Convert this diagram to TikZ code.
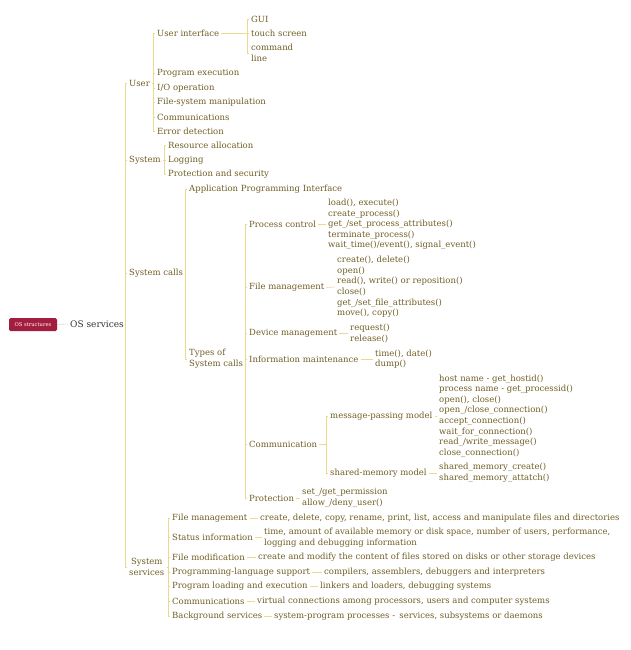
\documentclass[tikz,border=0pt]{standalone}
\usepackage{fontspec}
\setmainfont{DejaVu Serif}
\usetikzlibrary{positioning}
\definecolor{mtext}{RGB}{112,94,36}
\definecolor{mline}{RGB}{236,218,140}
\definecolor{mroot}{RGB}{163,30,62}
\tikzset{topic/.style = {anchor=west, inner xsep=2pt, inner ysep=0pt, align=left,
                         text=mtext, font=\fontsize{8.5}{10.6}\selectfont},
         link/.style = {draw=mline, line width=0.6pt}}

\begin{document}
\begin{tikzpicture}[x=1pt, y=-1pt]
    \fill [white] (0,0) rectangle (630,650);
    \useasboundingbox (0,0) rectangle (630,650);

    % root
    \node [fill=mroot, text=white, rounded corners=1.5pt, minimum width=48pt, minimum height=13pt,
           inner sep=0pt, font=\fontsize{5.2}{6}\selectfont] (root) at (33,324.5) {OS structures};
    \node [topic, text=black!80, font=\fontsize{9}{11}\selectfont] (os) at (68,324) {OS services};

    % first level
    \node [topic] (user) at (127,83) {User};
    \node [topic] (sys) at (127,160) {System};
    \node [topic] (calls) at (127,273) {System calls};
    \node [topic, align=center] (serv) at (127,567) {System\\services};

    % user
    \node [topic] (ui) at (155,33.5) {User interface};
    \node [topic] (pe) at (155,73.5) {Program execution};
    \node [topic] (io) at (155,88) {I/O operation};
    \node [topic] (fsm) at (155,102) {File-system manipulation};
    \node [topic] (com) at (155,117) {Communications};
    \node [topic] (err) at (155,131) {Error detection};
    \node [topic] (gui) at (249,19) {GUI};
    \node [topic] (touch) at (249,33.5) {touch screen};
    \node [topic] (cmd) at (249,53) {command\\line};

    % system
    \node [topic] (res) at (166,145.5) {Resource allocation};
    \node [topic] (log) at (166,160) {Logging};
    \node [topic] (prot) at (166,174.5) {Protection and security};

    % system calls
    \node [topic] (api) at (187,189) {Application Programming Interface};
    \node [topic] (types) at (187,359) {Types of\\System calls};
    \node [topic] (pc) at (247,224.5) {Process control};
    \node [topic] (fm) at (247,287.5) {File management};
    \node [topic] (dm) at (247,333.5) {Device management};
    \node [topic] (im) at (247,359) {Information maintenance};
    \node [topic] (comm) at (247,444) {Communication};
    \node [topic] (pr) at (247,498) {Protection};

    \node [topic] (pcl) at (326,224.5) {load(), execute()\\create\_process()\\get\_/set\_process\_attributes()\\terminate\_process()\\wait\_time()/event(), signal\_event()};
    \node [topic] (fml) at (335,287) {create(), delete()\\open()\\read(), write() or reposition()\\close()\\get\_/set\_file\_attributes()\\move(), copy()};
    \node [topic] (dml) at (348,333.5) {request()\\release()};
    \node [topic] (iml) at (373,359) {time(), date()\\dump()};
    \node [topic] (mp) at (328,416) {message-passing model};
    \node [topic] (sm) at (328,473) {shared-memory model};
    \node [topic] (mpl) at (437,416) {host name - get\_hostid()\\process name - get\_processid()\\open(), close()\\open\_/close\_connection()\\accept\_connection()\\wait\_for\_connection()\\read\_/write\_message()\\close\_connection()};
    \node [topic] (sml) at (437,473) {shared\_memory\_create()\\shared\_memory\_attatch()};
    \node [topic] (prl) at (300,498) {set\_/get\_permission\\allow\_/deny\_user()};

    % system services
    \node [topic] (sfm) at (170,518) {File management};
    \node [topic] (sst) at (170,537.5) {Status information};
    \node [topic] (smod) at (170,557) {File modification};
    \node [topic] (spl) at (170,572) {Programming-language support};
    \node [topic] (sld) at (170,586.5) {Program loading and execution};
    \node [topic] (scom) at (170,601) {Communications};
    \node [topic] (sbg) at (170,616) {Background services};
    \node [topic] (sfml) at (258,518) {create, delete, copy, rename, print, list, access and manipulate files and directories};
    \node [topic] (sstl) at (262,537.5) {time, amount of available memory or disk space, number of users, performance,\\logging and debugging information};
    \node [topic] (smodl) at (256,557) {create and modify the content of files stored on disks or other storage devices};
    \node [topic] (spll) at (322,572) {compilers, assemblers, debuggers and interpreters};
    \node [topic] (sldl) at (318,586.5) {linkers and loaders, debugging systems};
    \node [topic] (scoml) at (255,601) {virtual connections among processors, users and computer systems};
    \node [topic] (sbgl) at (272,616) {system-program processes -\enspace services, subsystems or daemons};

    % connectors
    \draw [link, draw=black!15] (root.east) -- (os.west);
    \foreach \p/\c in {os/user, os/sys, os/calls, os/serv,
                       user/ui, user/pe, user/io, user/fsm, user/com, user/err,
                       ui/gui, ui/touch, ui/cmd,
                       sys/res, sys/log, sys/prot,
                       calls/api, calls/types,
                       types/pc, types/fm, types/dm, types/im, types/comm, types/pr,
                       comm/mp, comm/sm,
                       serv/sfm, serv/sst, serv/smod, serv/spl, serv/sld, serv/scom, serv/sbg}
        \draw [link] (\p.east) -- ([xshift=-2pt]\c.west |- \p.east) |- (\c.west);
    \foreach \p/\c in {pc/pcl, fm/fml, dm/dml, im/iml, mp/mpl, sm/sml, pr/prl,
                       sfm/sfml, sst/sstl, smod/smodl, spl/spll, sld/sldl, scom/scoml, sbg/sbgl}
        \draw [link] (\p.east) -- (\c.west);
\end{tikzpicture}
\end{document}
